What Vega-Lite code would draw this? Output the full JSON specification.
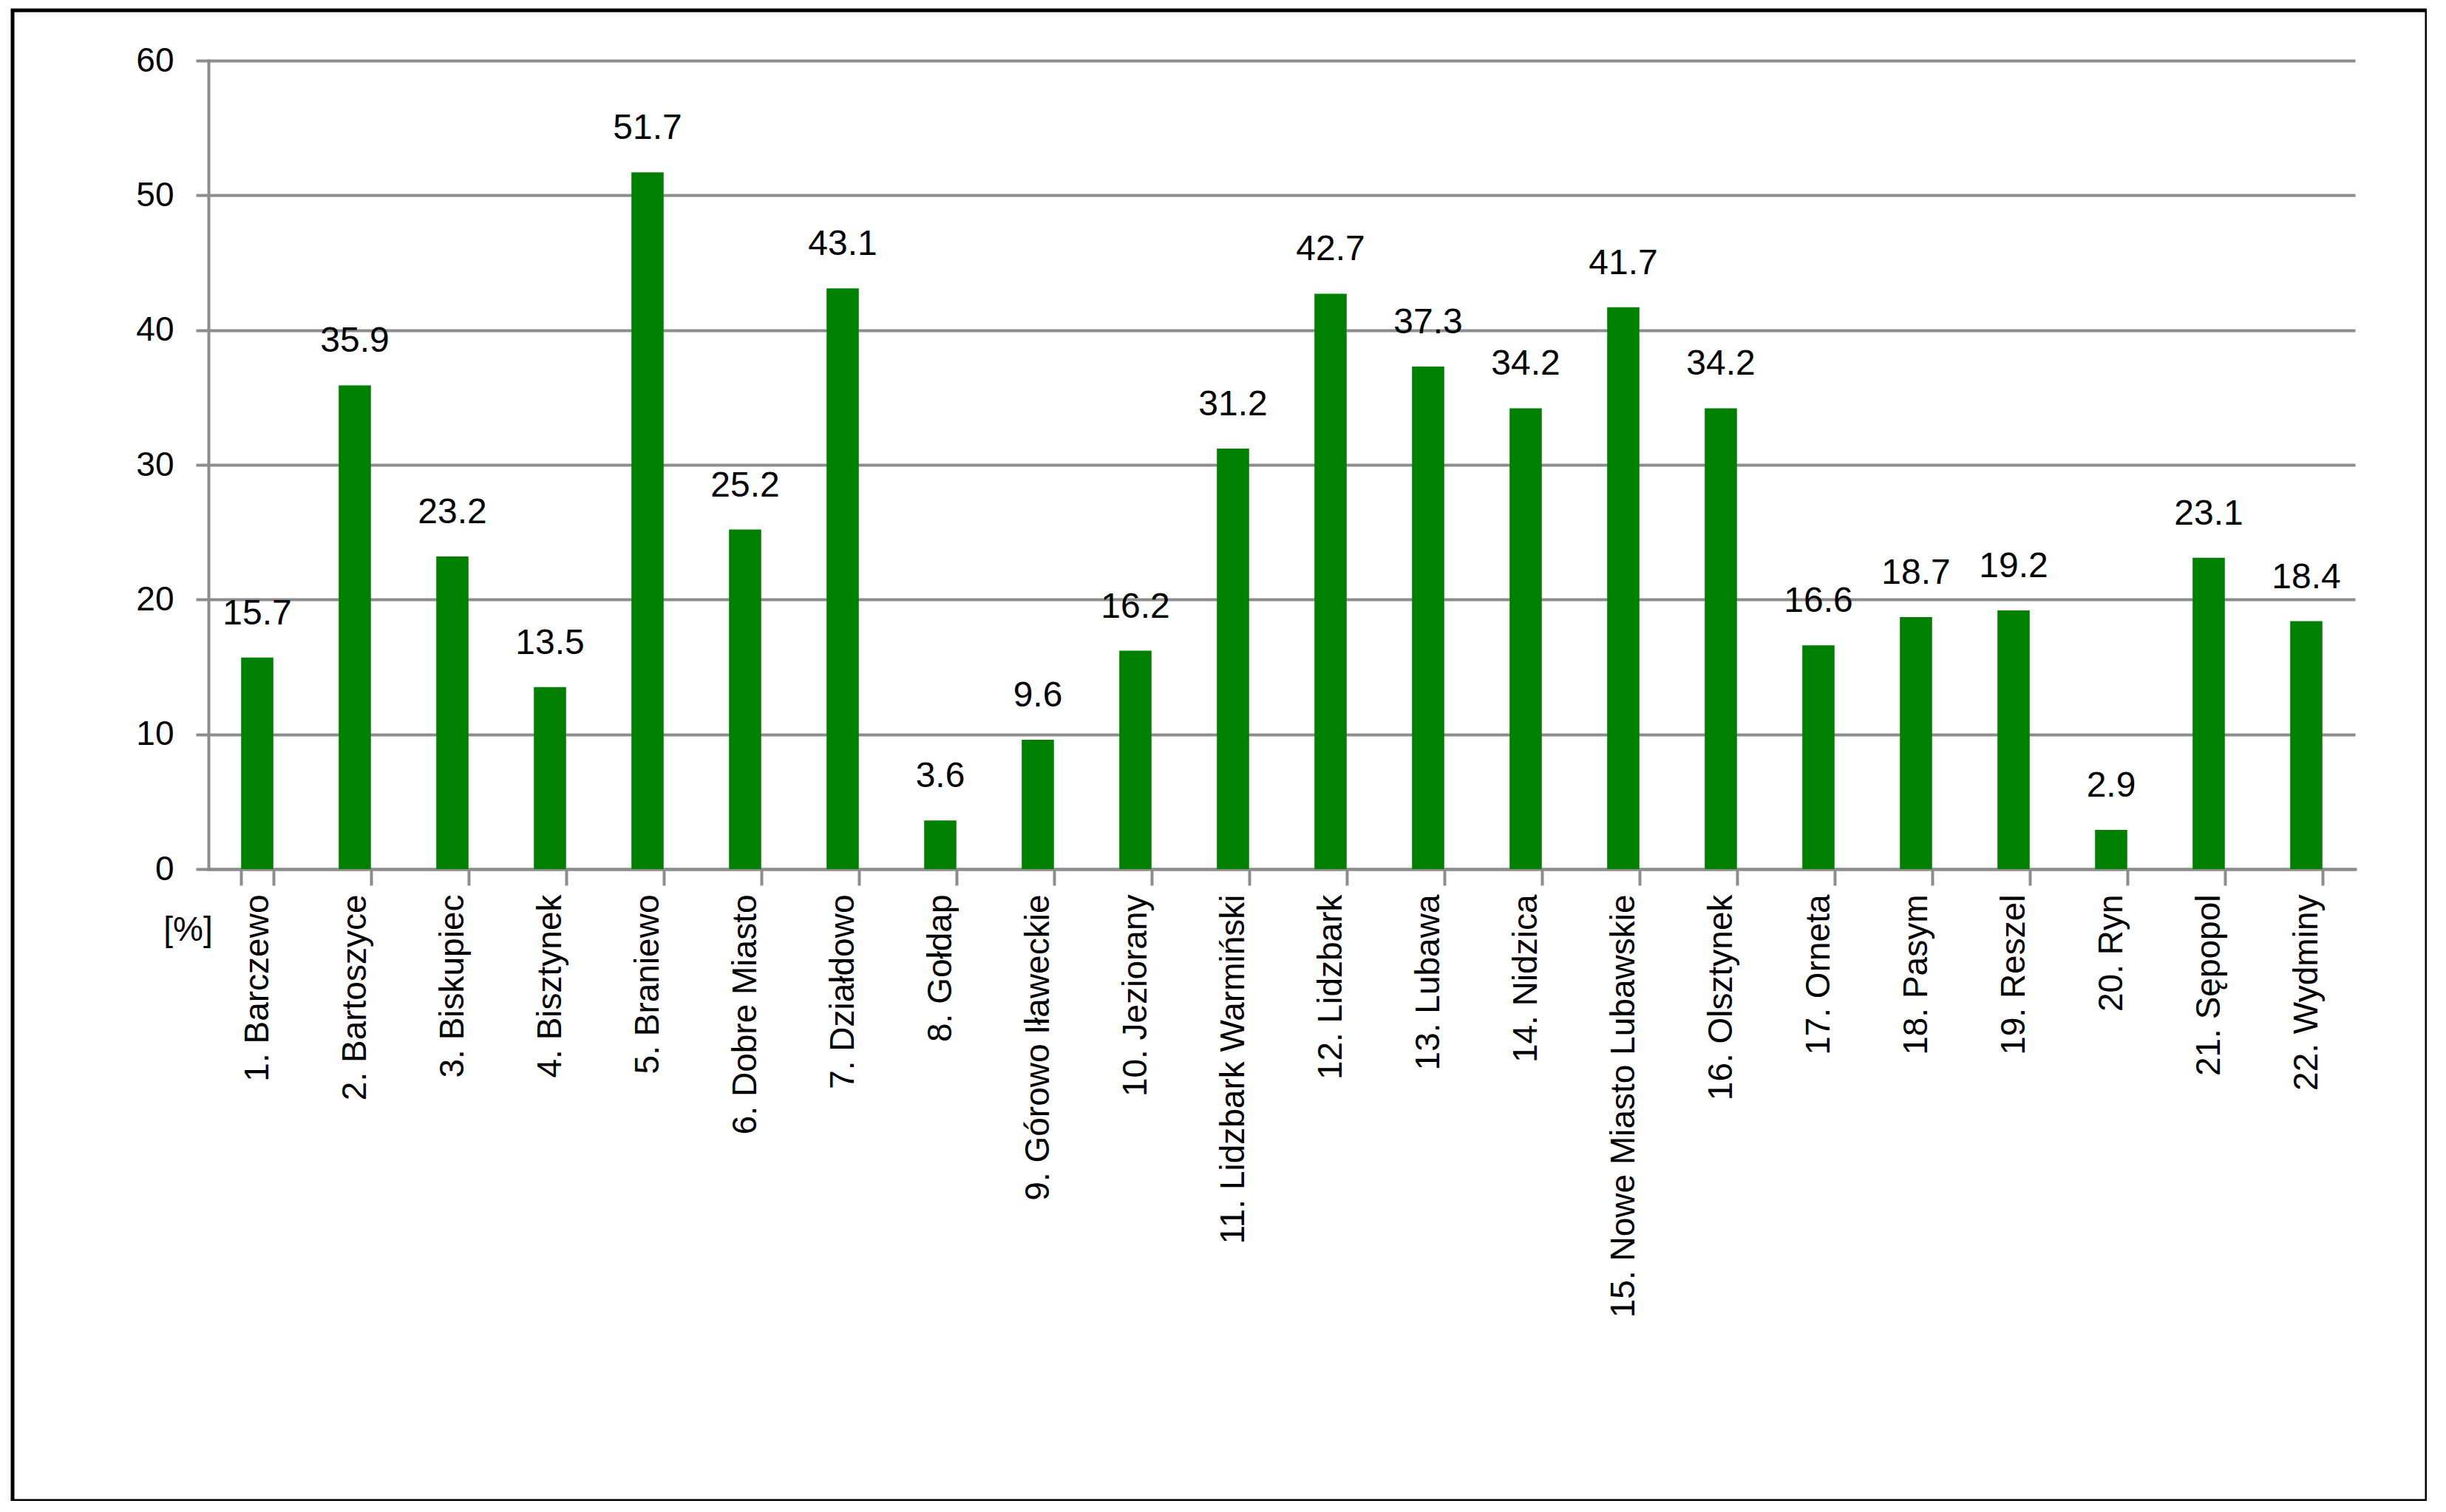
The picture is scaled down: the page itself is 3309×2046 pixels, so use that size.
{
  "$schema": "https://vega.github.io/schema/vega-lite/v6.json",
  "width": 3266,
  "height": 2017,
  "autosize": {"type": "none"},
  "padding": {"left": 17, "top": 14, "right": 0, "bottom": 0},
  "background": "white",
  "config": {
    "view": {"stroke": "black", "strokeWidth": 5, "fill": "white"},
    "font": "Liberation Sans",
    "axis": {
      "labelFont": "Liberation Sans",
      "titleFont": "Liberation Sans",
      "labelColor": "black",
      "domainColor": "#8c8c8c",
      "domainWidth": 4,
      "tickColor": "#8c8c8c",
      "tickWidth": 4,
      "gridColor": "#8c8c8c",
      "gridWidth": 4,
      "gridOpacity": 1,
      "domainCap": "square"
    }
  },
  "data": {
    "values": [
      {"gmina": "1. Barczewo", "value": 15.7},
      {"gmina": "2. Bartoszyce", "value": 35.9},
      {"gmina": "3. Biskupiec", "value": 23.2},
      {"gmina": "4. Bisztynek", "value": 13.5},
      {"gmina": "5. Braniewo", "value": 51.7},
      {"gmina": "6. Dobre Miasto", "value": 25.2},
      {"gmina": "7. Działdowo", "value": 43.1},
      {"gmina": "8. Gołdap", "value": 3.6},
      {"gmina": "9. Górowo Iławeckie", "value": 9.6},
      {"gmina": "10. Jeziorany", "value": 16.2},
      {"gmina": "11. Lidzbark Warmiński", "value": 31.2},
      {"gmina": "12. Lidzbark", "value": 42.7},
      {"gmina": "13. Lubawa", "value": 37.3},
      {"gmina": "14. Nidzica", "value": 34.2},
      {"gmina": "15. Nowe Miasto Lubawskie", "value": 41.7},
      {"gmina": "16. Olsztynek", "value": 34.2},
      {"gmina": "17. Orneta", "value": 16.6},
      {"gmina": "18. Pasym", "value": 18.7},
      {"gmina": "19. Reszel", "value": 19.2},
      {"gmina": "20. Ryn", "value": 2.9},
      {"gmina": "21. Sępopol", "value": 23.1},
      {"gmina": "22. Wydminy", "value": 18.4}
    ]
  },
  "encoding": {
    "x": {
      "field": "gmina",
      "type": "nominal",
      "sort": null,
      "scale": {"range": [265, 3169], "paddingInner": 0.67, "paddingOuter": 0.335},
      "axis": {
        "title": null,
        "orient": "bottom",
        "offset": -855,
        "labelAngle": -90,
        "labelFontSize": 46,
        "labelPadding": 12,
        "tickSize": 22,
        "tickBand": "extent",
        "grid": false,
        "labelOverlap": false,
        "labelLimit": 0
      }
    },
    "y": {
      "field": "value",
      "type": "quantitative",
      "scale": {"domain": [0, 60], "range": [1162, 68], "nice": false, "zero": true},
      "axis": {
        "orient": "left",
        "offset": -265,
        "values": [0, 10, 20, 30, 40, 50, 60],
        "grid": true,
        "labelFontSize": 46,
        "labelPadding": 30,
        "tickSize": 17,
        "title": "[%]",
        "titleAngle": 0,
        "titleAlign": "center",
        "titleBaseline": "top",
        "titleX": -28,
        "titleY": 1222,
        "titleFontSize": 46,
        "titleFontWeight": "normal",
        "titleColor": "black"
      }
    }
  },
  "layer": [
    {"mark": {"type": "bar", "color": "#008000"}},
    {
      "mark": {"type": "text", "baseline": "alphabetic", "dy": -45, "fontSize": 48, "color": "black", "font": "Liberation Sans"},
      "encoding": {"text": {"field": "value", "type": "quantitative", "format": ".1f"}}
    }
  ]
}
